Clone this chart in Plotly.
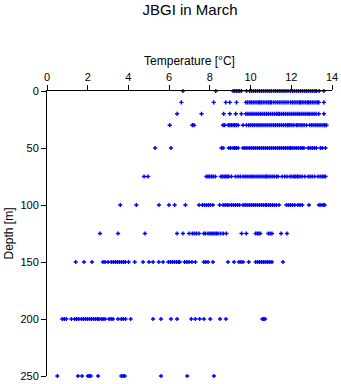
import plotly.graph_objects as go

depths = [0, 10, 20, 30, 50, 75, 100, 125, 150, 200, 250]

t_0 = [6.68, 8.29, 9.14, 9.22, 9.30, 9.38, 9.46, 9.55, 9.80,
       9.96, 10.05, 10.15, 10.25, 10.35, 10.45, 10.55, 10.65, 10.75, 10.85, 10.95, 11.03,
       11.14, 11.24, 11.34, 11.44, 11.54, 11.64, 11.74, 11.84,
       11.96, 12.06, 12.16, 12.26, 12.36, 12.46, 12.56, 12.66, 12.76, 12.86, 12.96, 13.06, 13.16, 13.24,
       13.37, 13.60]
t_10 = [6.60, 8.19, 8.78, 8.98, 9.31, 9.77, 9.86, 9.96,
        10.04, 10.13, 10.22, 10.31, 10.40, 10.45, 10.53, 10.62, 10.71, 10.80, 10.89, 10.97, 11.03,
        11.14, 11.24, 11.34, 11.44, 11.54, 11.64, 11.74, 11.84,
        11.96, 12.05, 12.14, 12.23, 12.32, 12.41, 12.45, 12.53, 12.62, 12.71, 12.80, 12.86,
        12.94, 13.03, 13.12, 13.21, 13.30, 13.35, 13.60]
t_20 = [6.39, 7.59, 8.68, 8.98, 9.27, 9.55,
        9.77, 9.87, 9.97, 10.07, 10.17, 10.27, 10.37, 10.47, 10.57, 10.67, 10.77, 10.87, 10.97, 11.07, 11.17, 11.27, 11.35,
        11.43, 11.53, 11.63, 11.73, 11.83, 11.93, 12.03, 12.13, 12.23, 12.33,
        12.42, 12.52, 12.62, 12.72, 12.82, 12.91, 13.02, 13.12, 13.22, 13.35, 13.60]
t_30 = [6.03, 7.14, 7.22, 8.65, 8.73, 8.90, 8.98, 9.06, 9.14, 9.22, 9.30, 9.39, 9.63, 9.80, 9.91,
        10.01, 10.11, 10.21, 10.31, 10.41, 10.51, 10.61, 10.71, 10.81, 10.91, 11.01, 11.11, 11.21, 11.31,
        11.41, 11.51, 11.61, 11.71, 11.81, 11.84,
        11.93, 12.03, 12.13, 12.25, 12.33, 12.43, 12.53, 12.63, 12.75,
        12.91, 13.01, 13.11, 13.21, 13.31, 13.41, 13.51, 13.61, 13.65, 13.73]
t_50 = [5.31, 6.09, 8.57, 8.65, 8.93, 9.02, 9.14, 9.22, 9.30, 9.39, 9.63, 9.72, 9.82,
        9.93, 10.03, 10.13, 10.23, 10.33, 10.43, 10.53, 10.63, 10.73, 10.83, 10.93, 11.03, 11.13,
        11.23, 11.33, 11.43, 11.53, 11.63, 11.73, 11.83, 11.93, 11.96,
        12.04, 12.14, 12.24, 12.34, 12.45, 12.53, 12.62, 12.83, 12.93, 13.03, 13.13, 13.23,
        13.43, 13.53, 13.68]
t_75 = [4.77, 4.96, 7.83, 7.91, 7.99, 8.08, 8.16, 8.27, 8.54, 8.62, 8.70, 8.78, 8.86, 8.93,
        9.06, 9.26, 9.39, 9.50, 9.63, 9.73, 9.83, 9.93, 10.03, 10.12,
        10.21, 10.31, 10.41, 10.51, 10.61, 10.71, 10.78, 10.86, 10.96, 11.06, 11.16, 11.27,
        11.35, 11.55, 11.68, 11.79, 11.93, 12.03, 12.13, 12.20, 12.29, 12.33, 12.43, 12.53, 12.66,
        12.83, 12.93, 13.03, 13.15, 13.32, 13.42, 13.52, 13.60, 13.68]
t_100 = [3.60, 4.39, 5.50, 5.99, 6.27, 6.80, 7.47, 7.63, 7.73, 7.83, 7.93, 8.03, 8.15, 8.48,
         8.65, 8.75, 8.85, 8.94, 9.06, 9.16, 9.26, 9.36, 9.46,
         9.63, 9.73, 9.83, 9.93, 10.03, 10.13, 10.23, 10.33, 10.43, 10.53, 10.63, 10.73, 10.77,
         10.87, 10.97, 11.07, 11.17, 11.27, 11.40, 11.76, 11.86, 11.96, 12.06, 12.17,
         12.33, 12.43, 12.54, 12.87, 13.36, 13.46, 13.56, 13.64]
t_125 = [2.60, 3.49, 4.81, 6.39, 6.68, 6.98, 7.14, 7.24, 7.34, 7.47, 7.70, 7.78,
         7.91, 8.00, 8.08, 8.16, 8.24, 8.32, 8.40, 8.53, 8.66, 8.81, 9.56, 9.79,
         10.25, 10.33, 10.41, 10.48, 10.87, 10.96, 11.05, 11.50, 11.79]
t_150 = [1.41, 1.82, 2.21, 2.75, 2.85, 3.00, 3.16, 3.26, 3.36, 3.46, 3.56, 3.66, 3.76, 3.85,
         4.01, 4.31, 4.72, 5.01, 5.21, 5.49, 5.70, 5.96, 6.06, 6.16, 6.26, 6.36, 6.46, 6.52,
         6.76, 6.87, 6.98, 7.12, 7.29, 7.70, 7.80, 7.91, 8.15, 8.89, 9.19, 9.43, 9.53, 9.63, 9.91,
         10.25, 10.35, 10.45, 10.55, 10.65, 10.75, 10.85, 10.95, 11.05, 11.59]
t_200 = [0.75, 0.85, 0.95, 1.20, 1.36, 1.46, 1.56,
         1.69, 1.79, 1.89, 1.99, 2.09, 2.19, 2.29, 2.39, 2.49, 2.55,
         2.67, 2.76, 2.85, 3.05, 3.15, 3.24, 3.49, 3.65, 3.75, 3.86, 4.11,
         5.21, 5.60, 6.09, 6.39, 7.09, 7.29, 7.50, 7.71, 8.02, 8.50, 8.79, 10.58, 10.65, 10.71]
t_250 = [0.51, 1.52, 1.72, 2.01, 2.08, 2.15, 2.51, 3.65, 3.74, 3.82, 5.60, 6.89, 8.20]

temps = [t_0, t_10, t_20, t_30, t_50, t_75, t_100, t_125, t_150, t_200, t_250]

x_tick_vals = [0, 2, 4, 6, 8, 10, 12, 14]
y_tick_vals = [0, 50, 100, 150, 200, 250]

xs, ys = [], []
for d, tl in zip(depths, temps):
    for t in tl:
        xs.append(t)
        ys.append(d)

fig = go.Figure()
fig.add_trace(go.Scatter(
    x=xs, y=ys, mode="markers",
    marker=dict(symbol="cross", size=3.5, color="#0000ff", line=dict(width=0)),
    cliponaxis=False, showlegend=False,
))

font = "Liberation Sans, Arial, sans-serif"
fig.update_layout(
    width=341, height=384,
    margin=dict(l=47, r=9, t=91, b=8, autoexpand=False),
    paper_bgcolor="white", plot_bgcolor="white",
    font=dict(family=font, size=11, color="black"),
    title=dict(text="JBGI in March", x=190 / 341, xanchor="center",
               y=1 - 10 / 384, yanchor="middle", yref="container",
               font=dict(size=15, color="black", family=font)),
    xaxis=dict(
        side="top", range=[0, 14], tickvals=x_tick_vals, automargin=False,
        ticks="outside", ticklen=5, tickcolor="black", tickwidth=1,
        showline=True, linecolor="black", linewidth=1,
        showgrid=False, zeroline=False,
        tickfont=dict(size=11),
        title=dict(text="Temperature [°C]", font=dict(size=12), standoff=2),
    ),
    yaxis=dict(
        range=[250, 0], tickvals=y_tick_vals, automargin=False,
        ticks="outside", ticklen=5, tickcolor="black", tickwidth=1,
        showline=True, linecolor="black", linewidth=1,
        showgrid=False, zeroline=False,
        tickfont=dict(size=11),
        title=dict(text="Depth [m]", font=dict(size=12), standoff=4),
    ),
)

fig.write_html("out.html")
